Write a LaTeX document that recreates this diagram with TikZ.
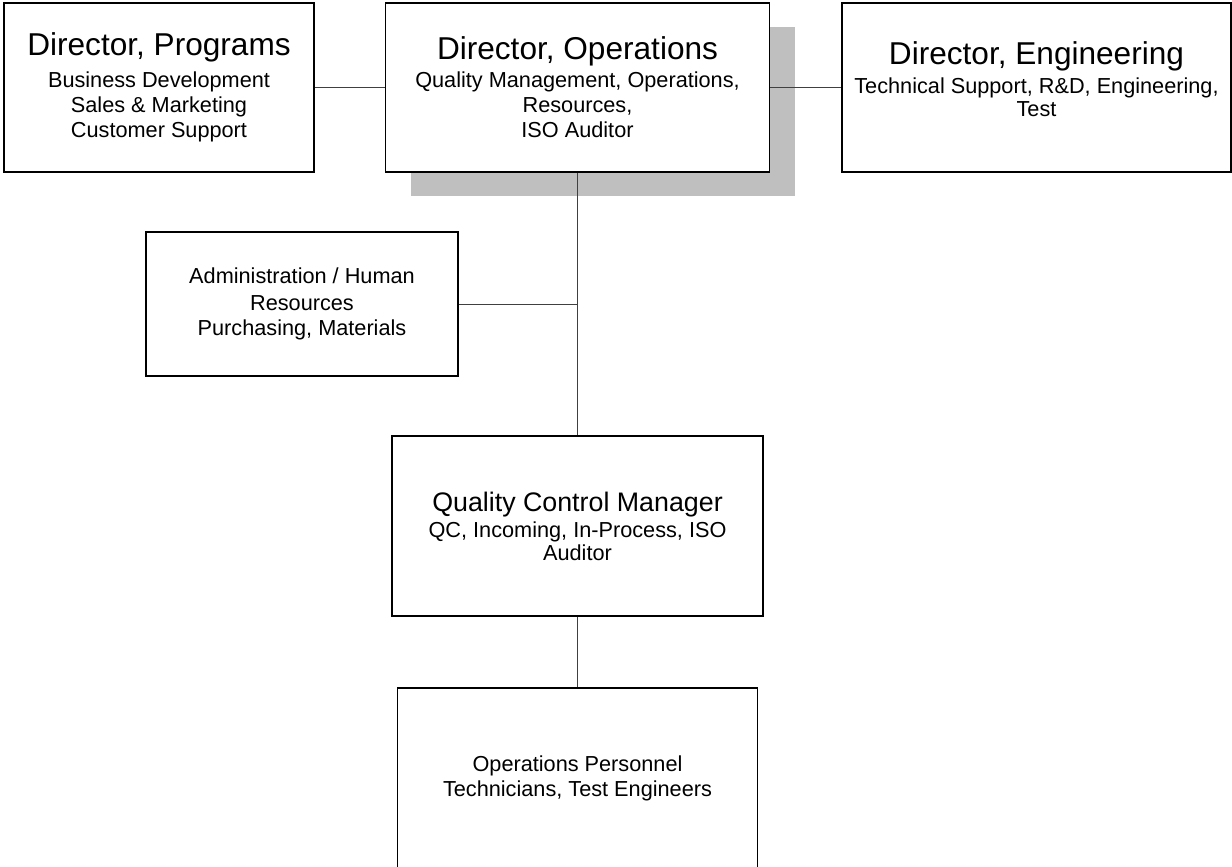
\documentclass[tikz,border=0pt]{standalone}
\usepackage{fontspec}
\setmainfont{Liberation Sans}
\usepackage{tikz}
\usetikzlibrary{shadows}
\tikzstyle{block} = [rectangle, draw, line width=1.5pt, fill=white, align=center, inner sep=0pt, font=\fontsize{21.7}{25}\selectfont]
\tikzstyle{line} = [draw, draw=black!75, line width=0.8pt]
\tikzstyle{boxshadow} = [drop shadow={shadow xshift=25pt, shadow yshift=-24pt, fill=black!25, opacity=1}]

\begin{document}
\begin{tikzpicture}[x=1pt, y=-1pt]
\useasboundingbox (0,0) rectangle (1232,867);
\node [block, boxshadow, minimum width=384pt, minimum height=169pt] (ops) at (577.5,87.5) {{\fontsize{31.6}{36}\selectfont Director, Operations}\\[3pt] Quality Management, Operations,\\ Resources,\\ ISO Auditor};
\node [block, left of=ops, node distance=418.5pt, minimum width=310pt, minimum height=169pt] (prog) {{\fontsize{31.6}{36}\selectfont Director, Programs}\\[7pt] Business Development\\ Sales \& Marketing\\ Customer Support};
\node [block, right of=ops, node distance=459pt, minimum width=389pt, minimum height=169pt, text depth=16pt] (eng) {{\fontsize{31.6}{36}\selectfont Director, Engineering}\\[4pt] Technical Support, R\&D, Engineering,\\[-2pt] Test};
\node [block, below of=ops, node distance=216.5pt, xshift=-275.5pt, minimum width=312pt, minimum height=144pt] (admin) {Administration / Human\\[2pt] Resources\\ Purchasing, Materials};
\node [block, below of=ops, node distance=438.5pt, minimum width=371pt, minimum height=180pt] (qc) {{\fontsize{26.8}{32}\selectfont Quality Control Manager}\\[1pt] QC, Incoming, In-Process, ISO\\[-2pt] Auditor};
\node [block, below of=qc, node distance=252pt, minimum width=360pt, minimum height=180pt] (pers) {Operations Personnel\\ Technicians, Test Engineers};
% Draw the edges
\path [line] (prog) -- (ops);
\path [line] (ops) -- (eng);
\path [line] (ops.south) -- (qc.north);
\path [line] (admin.east) -- (admin.east -| ops.south);
\path [line] (qc.south) -- (pers.north);
\end{tikzpicture}
\end{document}
